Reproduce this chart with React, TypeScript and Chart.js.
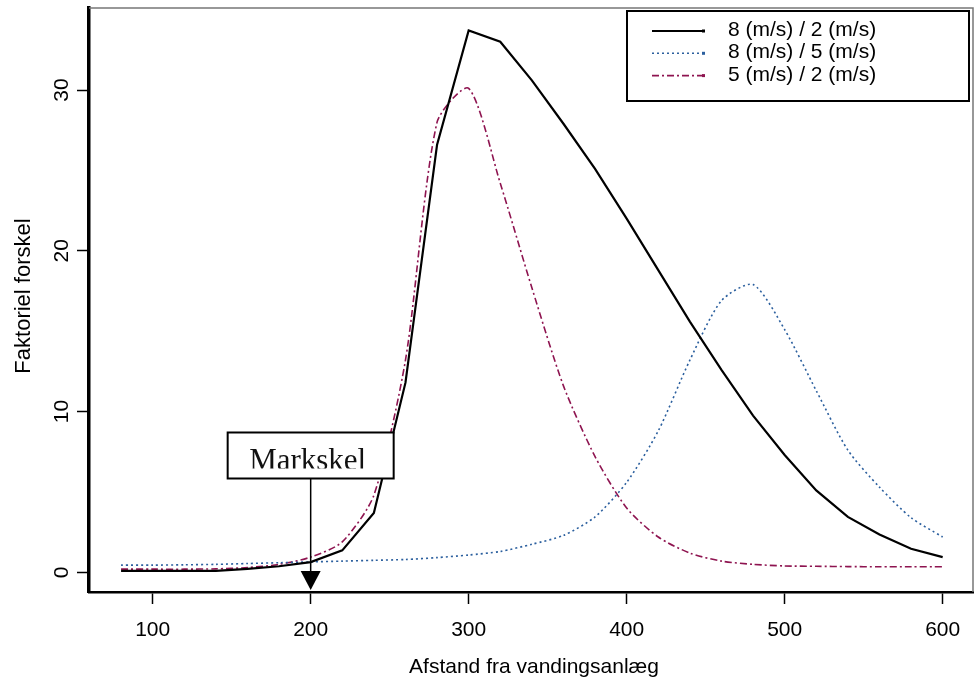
import React, { useEffect, useRef } from "react";
import { Chart, registerables } from "chart.js";

Chart.register(...registerables);

// ---- data ----
const distances = [80, 100, 120, 140, 160, 180, 200, 220, 240, 260, 280, 300, 320, 340, 360, 380, 400, 420, 440, 460, 480, 500, 520, 540, 560, 580, 600];
const ratio8to2 = [0.1, 0.1, 0.1, 0.1, 0.22, 0.38, 0.64, 1.37, 3.7, 11.8, 26.6, 33.7, 33.0, 30.6, 27.9, 25.1, 22.0, 18.8, 15.6, 12.6, 9.75, 7.3, 5.1, 3.45, 2.36, 1.47, 0.95];
const ratio8to5 = [0.45, 0.45, 0.47, 0.5, 0.55, 0.6, 0.65, 0.7, 0.75, 0.8, 0.92, 1.08, 1.3, 1.75, 2.3, 3.45, 5.6, 8.8, 13.2, 16.9, 17.9, 15.1, 11.3, 7.6, 5.3, 3.4, 2.2];
const ratio5to2 = [0.2, 0.2, 0.2, 0.22, 0.3, 0.5, 0.95, 1.9, 4.8, 13.2, 28.0, 30.1, 24.2, 17.7, 11.6, 7.2, 4.0, 2.2, 1.2, 0.7, 0.5, 0.4, 0.38, 0.36, 0.35, 0.35, 0.35];
const seriesLabels = ["8 (m/s) / 2 (m/s)", "8 (m/s) / 5 (m/s)", "5 (m/s) / 2 (m/s)"];
const xTickValues = [100, 200, 300, 400, 500, 600];
const yTickValues = [0, 10, 20, 30];
const xTitle = "Afstand fra vandingsanlæg";
const yTitle = "Faktoriel forskel";
const markerLabel = "Markskel";
const markerDistance = 200;
const markerBoxTop = 8.7;

const SANS = '"Liberation Sans", Arial, sans-serif';
const SERIF = '"Liberation Serif", "Times New Roman", serif';

const decorPlugin = {
  id: "decor",
  afterDraw(chart: any) {
    const ctx = chart.ctx as CanvasRenderingContext2D;
    const area = chart.chartArea;
    const xs = chart.scales.x;
    const ys = chart.scales.y;
    ctx.save();

    // frame top/right
    ctx.strokeStyle = "#777";
    ctx.lineWidth = 1.5;
    ctx.beginPath();
    ctx.moveTo(area.left, area.top);
    ctx.lineTo(area.right, area.top);
    ctx.lineTo(area.right, area.bottom);
    ctx.stroke();

    ctx.fillStyle = "#000";
    ctx.font = `21px ${SANS}`;

    // x tick labels
    ctx.textAlign = "center";
    ctx.textBaseline = "alphabetic";
    xTickValues.forEach((v) => {
      ctx.fillText(String(v), xs.getPixelForValue(v), area.bottom + 44);
    });

    // y tick labels (rotated)
    yTickValues.forEach((v) => {
      ctx.save();
      ctx.translate(area.left - 21, ys.getPixelForValue(v));
      ctx.rotate(-Math.PI / 2);
      ctx.textAlign = "center";
      ctx.fillText(String(v), 0, 0);
      ctx.restore();
    });

    // axis titles
    ctx.textAlign = "center";
    ctx.fillText(xTitle, (area.left + area.right) / 2 + 3, area.bottom + 81);
    ctx.save();
    ctx.translate(30, (area.top + area.bottom) / 2 - 4);
    ctx.rotate(-Math.PI / 2);
    ctx.font = `22px ${SANS}`;
    ctx.fillText(yTitle, 0, 0);
    ctx.restore();

    // legend
    const lx = 627;
    const ly = 11;
    const lw = 342;
    const lh = 90;
    ctx.fillStyle = "#fff";
    ctx.fillRect(lx, ly, lw, lh);
    ctx.strokeStyle = "#000";
    ctx.lineWidth = 2;
    ctx.setLineDash([]);
    ctx.strokeRect(lx, ly, lw, lh);
    chart.data.datasets.forEach((ds: any, i: number) => {
      const y = 31 + i * 22.3;
      ctx.strokeStyle = ds.borderColor;
      ctx.lineWidth = ds.borderWidth;
      ctx.setLineDash(ds.borderDash || []);
      ctx.beginPath();
      ctx.moveTo(652, y);
      ctx.lineTo(703, y);
      ctx.stroke();
      ctx.setLineDash([]);
      ctx.fillStyle = ds.borderColor;
      ctx.fillRect(702, y - 1.5, 3, 3);
      ctx.fillStyle = "#000";
      ctx.textAlign = "left";
      ctx.fillText(ds.label, 728, y + 5);
    });

    // Markskel annotation
    const mx = xs.getPixelForValue(markerDistance);
    const bTop = ys.getPixelForValue(markerBoxTop);
    const bLeft = mx - 83;
    const bW = 166;
    const bH = 46;
    const tipY = area.bottom - 2;
    const triTop = tipY - 19;
    ctx.strokeStyle = "#000";
    ctx.lineWidth = 1.5;
    ctx.beginPath();
    ctx.moveTo(mx, bTop + bH);
    ctx.lineTo(mx, triTop);
    ctx.stroke();
    ctx.fillStyle = "#000";
    ctx.beginPath();
    ctx.moveTo(mx - 10, triTop);
    ctx.lineTo(mx + 10, triTop);
    ctx.lineTo(mx, tipY);
    ctx.closePath();
    ctx.fill();

    ctx.fillStyle = "#fff";
    ctx.fillRect(bLeft, bTop, bW, bH);
    ctx.lineWidth = 2;
    ctx.strokeRect(bLeft, bTop, bW, bH);
    ctx.save();
    ctx.beginPath();
    ctx.rect(bLeft, bTop, bW, 36);
    ctx.clip();
    ctx.fillStyle = "#111";
    ctx.font = `31px ${SERIF}`;
    ctx.textAlign = "center";
    ctx.fillText(markerLabel, mx - 3, bTop + 38);
    ctx.restore();

    ctx.restore();
  },
};

export default function App() {
  const ref = useRef<HTMLCanvasElement | null>(null);

  useEffect(() => {
    if (!ref.current) return;
    const toPoints = (arr: number[]) => distances.map((d, i) => ({ x: d, y: arr[i] }));
    const chart = new Chart(ref.current, {
      type: "line",
      data: {
        datasets: [
          {
            label: seriesLabels[0],
            data: toPoints(ratio8to2),
            borderColor: "#000000",
            borderWidth: 2.2,
            pointRadius: 0,
            tension: 0,
            fill: false,
          },
          {
            label: seriesLabels[1],
            data: toPoints(ratio8to5),
            borderColor: "#2b5f9e",
            borderWidth: 1.6,
            borderDash: [2, 3],
            pointRadius: 0,
            tension: 0.25,
            fill: false,
          },
          {
            label: seriesLabels[2],
            data: toPoints(ratio5to2),
            borderColor: "#8e1450",
            borderWidth: 1.6,
            borderDash: [7, 3, 2, 3],
            pointRadius: 0,
            tension: 0.25,
            fill: false,
          },
        ],
      },
      options: {
        animation: false,
        responsive: false,
        devicePixelRatio: 1,
        layout: { padding: { top: 8, right: 1, left: 0, bottom: 0 } },
        plugins: { legend: { display: false }, tooltip: { enabled: false } },
        scales: {
          x: {
            type: "linear",
            min: 59.7,
            max: 619.2,
            afterBuildTicks: (s: any) => {
              s.ticks = xTickValues.map((v) => ({ value: v }));
            },
            afterFit: (s: any) => {
              s.height = 88;
            },
            ticks: { display: false },
            grid: { drawOnChartArea: false, drawTicks: true, tickLength: 12, tickColor: "#000", tickWidth: 1.5, color: "#000" },
            border: { display: true, color: "#000", width: 2.5 },
          },
          y: {
            type: "linear",
            min: -1.22,
            max: 35.1,
            afterBuildTicks: (s: any) => {
              s.ticks = yTickValues.map((v) => ({ value: v }));
            },
            afterFit: (s: any) => {
              s.width = 89;
            },
            ticks: { display: false },
            grid: { drawOnChartArea: false, drawTicks: true, tickLength: 12, tickColor: "#000", tickWidth: 1.5, color: "#000" },
            border: { display: true, color: "#000", width: 3.5 },
          },
        },
      },
      plugins: [decorPlugin],
    });
    return () => chart.destroy();
  }, []);

  return (
    <div style={{ position: "absolute", left: 0, top: 0, width: 974, height: 680, background: "#fff" }}>
      <canvas ref={ref} width={974} height={680} style={{ display: "block", width: 974, height: 680 }} />
    </div>
  );
}
